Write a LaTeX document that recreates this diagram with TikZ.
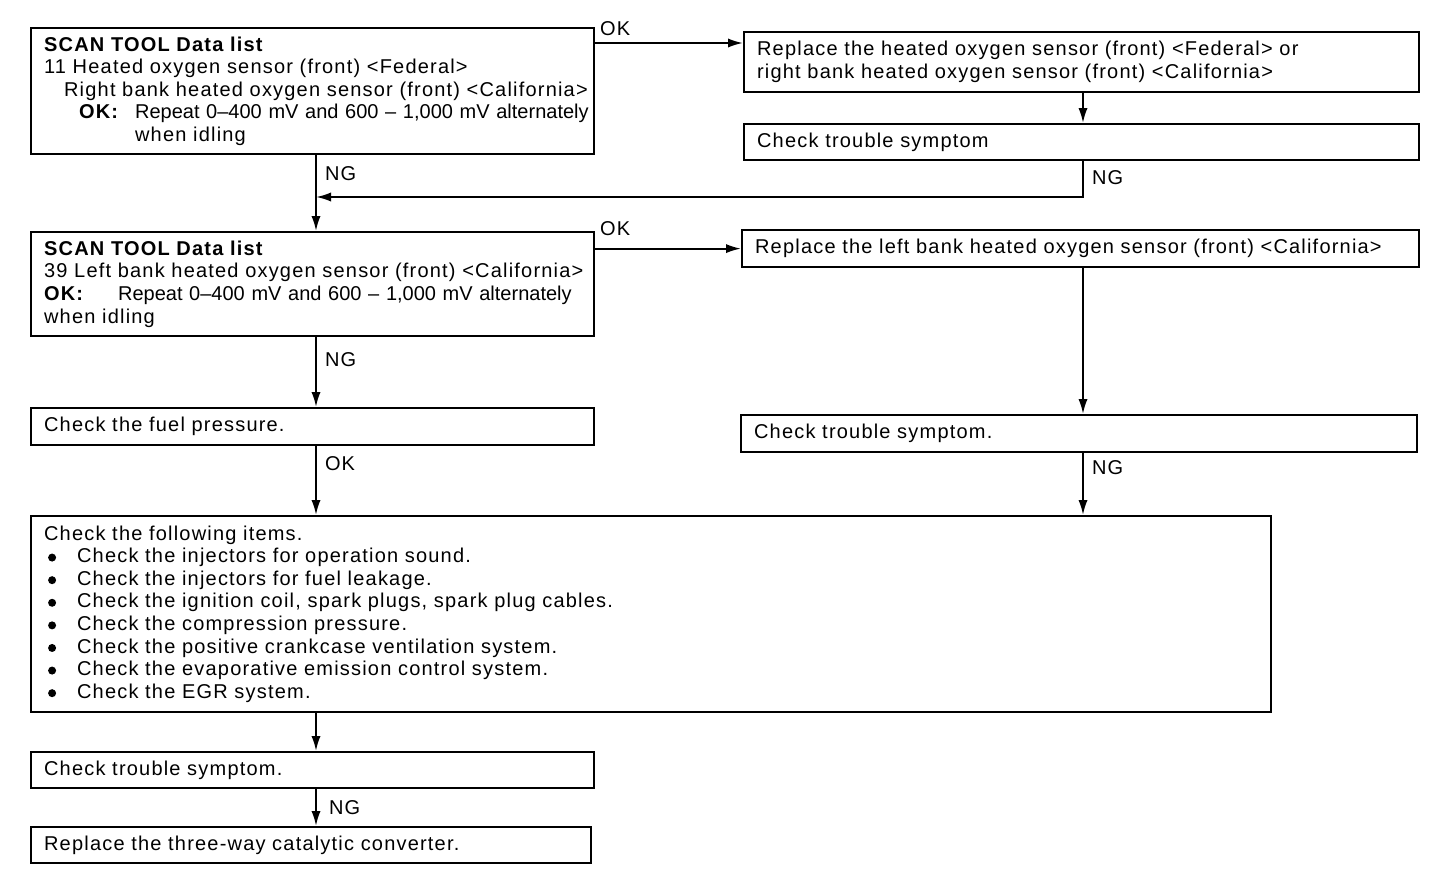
\documentclass[tikz,border=0pt]{standalone}
\usepackage{fontspec}
\setmainfont{Liberation Sans}[LetterSpace=6,WordSpace=2.3]
\newfontfamily\okfont{Liberation Sans}[WordSpace=1.5]
\usetikzlibrary{arrows.meta}
\newcommand\itm{\hspace*{2pt}\makebox[14.5pt][l]{\raisebox{0.6pt}{\tikz\fill (0,0) circle (2pt);}}}
\tikzset{
  box/.style={draw,line width=1.1pt,anchor=north west,align=left,inner xsep=6.5pt,inner ysep=2pt,font=\fontsize{10}{11.3}\selectfont},
  arr/.style={-{Latex[length=7.5pt,width=4.6pt]},line width=1pt},
  lbl/.style={font=\fontsize{10}{11.3}\selectfont,inner sep=2pt},
}
\begin{document}
\begin{tikzpicture}[x=0.5pt,y=-0.5pt]
  \useasboundingbox (0,0) rectangle (1456,894);
  % left column
  \node[box,text width=268.5pt,minimum height=63pt] (a) at (30,27) {\textbf{SCAN TOOL Data list}\\
    11 Heated oxygen sensor (front) <Federal>\\
    \hspace*{10pt}Right bank heated oxygen sensor (front) <California>\\
    \hspace*{17.5pt}\makebox[28pt][l]{\textbf{OK:}}\mbox{\okfont Repeat 0\textendash400 mV and 600 \textendash\ 1,000 mV alternately}\\
    \hspace*{45.5pt}when idling};
  \node[box,text width=268.5pt,minimum height=52pt] (d) at (30,231) {\textbf{SCAN TOOL Data list}\\
    39 Left bank heated oxygen sensor (front) <California>\\
    \makebox[37pt][l]{\textbf{OK:}}\mbox{\okfont Repeat 0\textendash400 mV and 600 \textendash\ 1,000 mV alternately}\\
    when idling};
  \node[box,text width=268.5pt,minimum height=18.5pt] (f) at (30,407) {Check the fuel pressure.};
  \node[box,text width=607pt,minimum height=98pt] (h) at (30,515) {Check the following items.\\
    \itm Check the injectors for operation sound.\\
    \itm Check the injectors for fuel leakage.\\
    \itm Check the ignition coil, spark plugs, spark plug cables.\\
    \itm Check the compression pressure.\\
    \itm Check the positive crankcase ventilation system.\\
    \itm Check the evaporative emission control system.\\
    \itm Check the EGR system.};
  \node[box,text width=268.5pt,minimum height=18pt] (i) at (30,751) {Check trouble symptom.};
  \node[box,text width=267pt,minimum height=18pt] (j) at (30,826) {Replace the three-way catalytic converter.};
  % right column
  \node[box,text width=324.5pt,minimum height=30pt] (b) at (743,31) {Replace the heated oxygen sensor (front) <Federal> or\\
    right bank heated oxygen sensor (front) <California>};
  \node[box,text width=324.5pt,minimum height=18pt] (c) at (743,123) {Check trouble symptom};
  \node[box,text width=325.5pt,minimum height=18.5pt] (e) at (741,229) {Replace the left bank heated oxygen sensor (front) <California>};
  \node[box,text width=325pt,minimum height=18.5pt] (g) at (740,414) {Check trouble symptom.};
  % connectors
  \coordinate (cl) at (316,0);
  \coordinate (cr) at (1083,0);
  \coordinate (back) at (316,197);
  \coordinate (okA) at ([yshift=-8pt]a.north east);
  \draw[arr] (okA) node[lbl,anchor=south west,yshift=1pt] {OK} -- (okA -| b.west);
  \draw[arr] (cr |- b.south) -- (cr |- c.north);
  \draw[arr] (cr |- c.south) -- node[lbl,pos=0.45,right=2pt] {NG} (cr |- back) -- (back);
  \draw[arr] (cl |- a.south) -- node[lbl,pos=0.24,right=2pt] {NG} (cl |- d.north);
  \draw[arr] (d.east |- e.west) node[lbl,anchor=south west,yshift=4pt] {OK} -- (e.west);
  \draw[arr] (cr |- e.south) -- (cr |- g.north);
  \draw[arr] (cl |- d.south) -- node[lbl,pos=0.32,right=2pt] {NG} (cl |- f.north);
  \draw[arr] (cl |- f.south) -- node[lbl,pos=0.25,right=2pt] {OK} (cl |- h.north);
  \draw[arr] (cr |- g.south) -- node[lbl,pos=0.23,right=2pt] {NG} (cr |- h.north);
  \draw[arr] (cl |- h.south) -- (cl |- i.north);
  \draw[arr] (cl |- i.south) -- node[lbl,midway,right=4pt] {NG} (cl |- j.north);
\end{tikzpicture}
\end{document}
